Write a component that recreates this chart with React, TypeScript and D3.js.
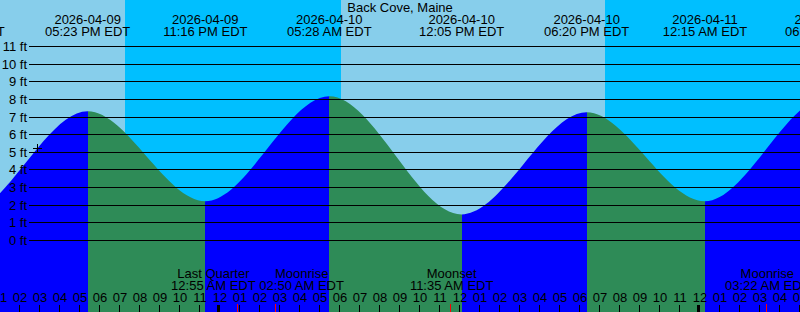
import React, { useMemo } from "react";
import * as d3 from "d3";

// ---------- data ----------
const TITLE = "Back Cove, Maine";
const TZ_LABEL = "EDT";
const VIEW_START = "2026-04-09 13:00";
const VIEW_END = "2026-04-11 05:00";

// tide extremes (low / high), including the partly visible ones at both edges
const tideTimes = [
  "2026-04-09 11:09",
  "2026-04-09 17:23",
  "2026-04-09 23:16",
  "2026-04-10 05:28",
  "2026-04-10 12:05",
  "2026-04-10 18:20",
  "2026-04-11 00:15",
  "2026-04-11 06:22",
];
const tideHeights = [1.4, 7.3, 2.2, 8.15, 1.45, 7.25, 2.2, 8.1];

const sunsetTimes = ["2026-04-09 19:15", "2026-04-10 19:15"];
const sunriseTimes = ["2026-04-10 06:03"];

const moonEventNames = ["Last Quarter", "Moonrise", "Moonset", "Moonrise"];
const moonEventTimes = [
  "2026-04-10 00:55",
  "2026-04-10 02:50",
  "2026-04-10 11:35",
  "2026-04-11 03:22",
];

const heightTicks = [0, 1, 2, 3, 4, 5, 6, 7, 8, 9, 10, 11];

const nowTime = "2026-04-09 14:52";
const nowLevel = 5.2;

// ---------- layout / style ----------
const W = 800;
const H = 312;
const FONT = "'Liberation Sans', Arial, sans-serif";
const FS = 13;
const C_DAY = "#87ceeb";
const C_NIGHT = "#00bfff";
const C_RISE = "#0000ff";
const C_FALL = "#2e8b57";

const parse = d3.utcParse("%Y-%m-%d %H:%M");
const fmtDate = d3.utcFormat("%Y-%m-%d");
const fmtTime = (d: Date) => d3.utcFormat("%I:%M %p")(d) + " " + TZ_LABEL;
const fmtHour = d3.utcFormat("%I");

// custom d3 curve: cubic segments with flat tangents at every extreme
class FlatCurve {
  _context: any;
  _line: number = NaN;
  _point: number = 0;
  _x0: number = 0;
  _y0: number = 0;
  constructor(context: any) {
    this._context = context;
  }
  areaStart() {
    this._line = 0;
  }
  areaEnd() {
    this._line = NaN;
  }
  lineStart() {
    this._point = 0;
  }
  lineEnd() {
    if (this._line || (this._line !== 0 && this._point === 1)) this._context.closePath();
    this._line = 1 - this._line;
  }
  point(x: number, y: number) {
    x = +x;
    y = +y;
    if (this._point === 0) {
      this._point = 1;
      if (this._line) this._context.lineTo(x, y);
      else this._context.moveTo(x, y);
    } else {
      const h = x - this._x0;
      this._context.bezierCurveTo(this._x0 + h / 3, this._y0, x - h / 3, y, x, y);
    }
    this._x0 = x;
    this._y0 = y;
  }
}
const curveFlat = (ctx: any) => new FlatCurve(ctx) as any;

function measure(text: string): number {
  try {
    const c = document.createElement("canvas").getContext("2d");
    if (c) {
      c.font = `${FS}px ${FONT}`;
      return c.measureText(text).width;
    }
  } catch (e) {}
  return text.length * FS * 0.55;
}

export default function App() {
  const x = d3
    .scaleUtc()
    .domain([parse(VIEW_START) as Date, parse(VIEW_END) as Date])
    .range([0, W]);
  const y = d3.scaleLinear().domain([0, 11]).range([240, 46]);

  const tides = tideTimes.map((t, i) => ({ t: parse(t) as Date, h: tideHeights[i] }));

  const area = d3
    .area<{ t: Date; h: number }>()
    .x((d) => x(d.t))
    .y0(H)
    .y1((d) => y(d.h))
    .curve(curveFlat);

  // night intervals
  const sunEvents = [
    ...sunsetTimes.map((t) => ({ t: parse(t) as Date, set: true })),
    ...sunriseTimes.map((t) => ({ t: parse(t) as Date, set: false })),
  ].sort((a, b) => +a.t - +b.t);
  const nights: [Date, Date][] = [];
  let nightStart: Date | null = sunEvents.length && !sunEvents[0].set ? x.domain()[0] : null;
  sunEvents.forEach((e) => {
    if (e.set) nightStart = e.t;
    else if (nightStart) {
      nights.push([nightStart, e.t]);
      nightStart = null;
    }
  });
  if (nightStart) nights.push([nightStart, x.domain()[1]]);

  const hours = x.ticks(d3.utcHour.every(1) as any);

  // moon labels with overlap resolution
  const moon = useMemo(() => {
    const items = moonEventTimes.map((t, i) => {
      const d = parse(t) as Date;
      const time = fmtTime(d);
      const w = Math.max(measure(moonEventNames[i]), measure(time));
      return { name: moonEventNames[i], time, x: x(d), c: x(d), w };
    });
    const GAP = 3;
    for (let pass = 0; pass < 10; pass++) {
      for (let i = 0; i < items.length - 1; i++) {
        const a = items[i];
        const b = items[i + 1];
        const need = (a.w + b.w) / 2 + GAP;
        const dist = b.c - a.c;
        if (dist < need) {
          const s = (need - dist) / 2;
          a.c -= s;
          b.c += s;
        }
      }
    }
    return items;
  }, []);

  const nowX = x(parse(nowTime) as Date);
  const nowY = y(nowLevel);

  return (
    <svg
      width={W}
      height={H}
      style={{ position: "absolute", left: 0, top: 0, display: "block" }}
      fontFamily={FONT}
      fontSize={FS}
    >
      <defs>
        <clipPath id="tideClip">
          <path d={area(tides) || ""} />
        </clipPath>
      </defs>
      {/* background day / night */}
      <rect x={0} y={0} width={W} height={H} fill={C_DAY} />
      {nights.map(([a, b], i) => (
        <rect
          key={"n" + i}
          x={x(a)}
          y={0}
          width={x(b) - x(a)}
          height={H}
          fill={C_NIGHT}
          shapeRendering="crispEdges"
        />
      ))}
      {/* tide fill */}
      <g clipPath="url(#tideClip)">
        {tides.slice(0, -1).map((d, i) => {
          const n = tides[i + 1];
          return (
            <rect
              key={"s" + i}
              x={x(d.t)}
              y={0}
              width={x(n.t) - x(d.t)}
              height={H}
              fill={n.h > d.h ? C_RISE : C_FALL}
              shapeRendering="crispEdges"
            />
          );
        })}
      </g>
      {/* height grid */}
      {heightTicks.map((h) => {
        const yy = Math.round(y(h)) + 0.5;
        return (
          <g key={"h" + h}>
            <line x1={29} x2={W} y1={yy} y2={yy} stroke="#000" strokeWidth={1} shapeRendering="crispEdges" />
            <text x={27} y={yy + 4.5} textAnchor="end" fill="#000">
              {h} ft
            </text>
          </g>
        );
      })}
      {/* current time marker */}
      <path
        d={`M${nowX - 4.5},${nowY}H${nowX + 4.5}M${nowX},${nowY - 4.5}V${nowY + 4.5}`}
        stroke="#000"
        strokeWidth={1}
        fill="none"
        shapeRendering="crispEdges"
      />
      {/* header */}
      <text x={W / 2} y={12} textAnchor="middle" fill="#000">
        {TITLE}
      </text>
      {tides.map((d, i) => (
        <g key={"t" + i}>
          <text x={x(d.t)} y={24} textAnchor="middle" fill="#000">
            {fmtDate(d.t)}
          </text>
          <text x={x(d.t)} y={36} textAnchor="middle" fill="#000">
            {fmtTime(d.t)}
          </text>
        </g>
      ))}
      {/* hour axis */}
      {hours.map((d, i) => {
        const xx = x(d);
        const midnight = d.getUTCHours() === 0;
        return (
          <g key={"hr" + i}>
            <text x={xx} y={302} textAnchor="middle" fill="#000">
              {fmtHour(d)}
            </text>
            {midnight ? (
              <rect x={xx - 3} y={305} width={3} height={7} fill="#000" shapeRendering="crispEdges" />
            ) : (
              <rect x={xx - 1} y={305} width={1} height={7} fill="#000" shapeRendering="crispEdges" />
            )}
          </g>
        );
      })}
      {/* moon events */}
      {moon.map((m, i) => (
        <g key={"m" + i}>
          <rect x={Math.floor(m.x) - 1} y={304} width={1} height={8} fill="#ff0000" shapeRendering="crispEdges" />
          <text x={m.c} y={278} textAnchor="middle" fill="#000">
            {m.name}
          </text>
          <text x={m.c} y={290} textAnchor="middle" fill="#000">
            {m.time}
          </text>
        </g>
      ))}
    </svg>
  );
}
